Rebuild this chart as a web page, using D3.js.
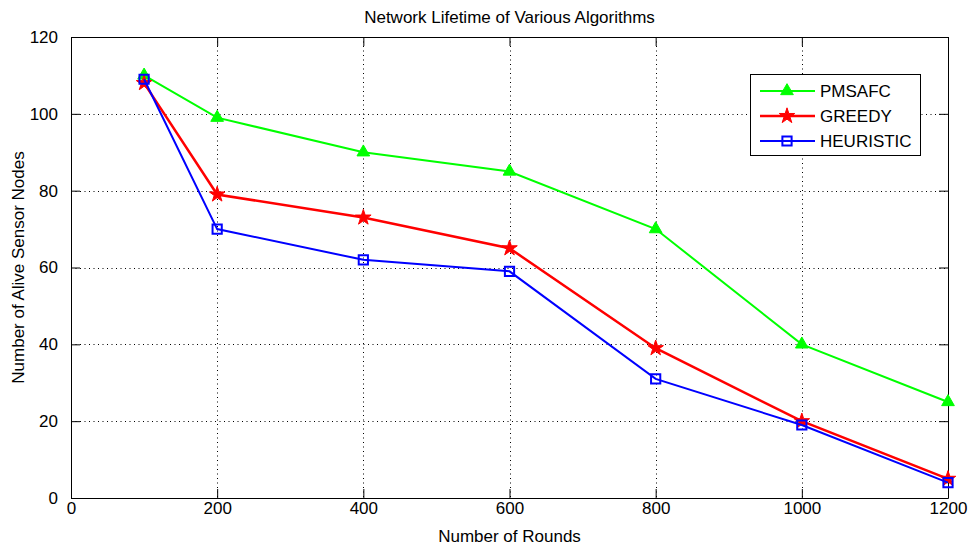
<!DOCTYPE html>
<html>
<head>
<meta charset="utf-8">
<script src="https://cdn.jsdelivr.net/npm/d3@7.9.0/dist/d3.min.js"></script>
<style>
  body { margin: 0; background: #fff; }
  svg { display: block; font-family: "Liberation Sans Narrow", "Arial Narrow", "Liberation Sans", sans-serif; }
</style>
</head>
<body>
<div id="chart"></div>
<script>
// data
const rounds = [100, 200, 400, 600, 800, 1000, 1200];
const pmsafc = [110, 99, 90, 85, 70, 40, 25];
const greedy = [108, 79, 73, 65, 39, 20, 5];
const heuristic = [109, 70, 62, 59, 31, 19, 4];
const xTicks = [0, 200, 400, 600, 800, 1000, 1200];
const yTicks = [0, 20, 40, 60, 80, 100, 120];

const series = [
    { name: "PMSAFC", values: pmsafc, color: "#00ff00", marker: "triangle", width: 2 },
    { name: "GREEDY", values: greedy, color: "#ff0000", marker: "star", width: 2.5 },
    { name: "HEURISTIC", values: heuristic, color: "#0000ff", marker: "square", width: 2 }
];

const width = 976;
const height = 545;
const margin = { top: 37, right: 28, bottom: 47, left: 71 };

const area = {
    top: margin.top,
    right: width - margin.right,
    bottom: height - margin.bottom,
    left: margin.left
};

const svg = d3.select("#chart")
    .append("svg")
    .attr("width", width)
    .attr("height", height);

// scales
const xScale = d3.scaleLinear().domain([0, 1200]).range([area.left, area.right]);
const yScale = d3.scaleLinear().domain([0, 120]).range([area.bottom, area.top]);

// dotted grid
const grid = svg.append("g").attr("stroke", "#000").attr("stroke-width", 1)
    .attr("stroke-dasharray", "1,3.5");
grid.selectAll(".gx")
    .data(xTicks.slice(1, -1))
    .join("line")
    .attr("x1", d => Math.round(xScale(d)) + 0.5)
    .attr("x2", d => Math.round(xScale(d)) + 0.5)
    .attr("y1", area.top)
    .attr("y2", area.bottom);
grid.selectAll(".gy")
    .data(yTicks.slice(1, -1))
    .join("line")
    .attr("x1", area.left)
    .attr("x2", area.right)
    .attr("y1", d => Math.round(yScale(d)) + 0.5)
    .attr("y2", d => Math.round(yScale(d)) + 0.5);

// axes with inward ticks on all four sides
const tickLen = 9;
const fmt = d3.format("d");
const axisFont = 17;

const xb = svg.append("g")
    .attr("transform", `translate(0,${area.bottom})`)
    .call(d3.axisBottom(xScale).tickValues(xTicks).tickFormat(fmt).tickSizeInner(-tickLen).tickSizeOuter(0).tickPadding(4));
const xt = svg.append("g")
    .attr("transform", `translate(0,${area.top})`)
    .call(d3.axisTop(xScale).tickValues(xTicks).tickFormat("").tickSizeInner(-tickLen).tickSizeOuter(0));
const yl = svg.append("g")
    .attr("transform", `translate(${area.left},0)`)
    .call(d3.axisLeft(yScale).tickValues(yTicks).tickFormat(fmt).tickSizeInner(-tickLen).tickSizeOuter(0).tickPadding(13));
const yr = svg.append("g")
    .attr("transform", `translate(${area.right},0)`)
    .call(d3.axisRight(yScale).tickValues(yTicks).tickFormat("").tickSizeInner(-tickLen).tickSizeOuter(0));

[xb, xt, yl, yr].forEach(g => {
    g.select(".domain").attr("stroke", "#000").attr("stroke-width", 1);
    g.selectAll(".tick line").attr("stroke", "#000");
    g.selectAll(".tick text").attr("fill", "#000").style("font-size", axisFont + "px").style("font-family", "inherit");
});

// line + marker drawing
const line = d3.line()
    .x((d, i) => xScale(rounds[i]))
    .y(d => yScale(d));

const symbolFor = {
    triangle: d3.symbol().type(d3.symbolTriangle).size(70),
    star: d3.symbol().type(d3.symbolStar).size(75),
    square: d3.symbol().type(d3.symbolSquare).size(85)
};

function drawMarker(g, s, x, y) {
    const p = g.append("path")
        .attr("d", symbolFor[s.marker]())
        .attr("transform", `translate(${x},${y})`);
    if (s.marker === "square") {
        p.attr("fill", "none").attr("stroke", s.color).attr("stroke-width", 2);
    } else {
        p.attr("fill", s.color).attr("stroke", s.color).attr("stroke-width", 1);
    }
}

series.forEach(s => {
    svg.append("path")
        .datum(s.values)
        .attr("fill", "none")
        .attr("stroke", s.color)
        .attr("stroke-width", s.width)
        .attr("d", line);
    const g = svg.append("g");
    s.values.forEach((v, i) => drawMarker(g, s, xScale(rounds[i]), yScale(v)));
});

// title and axis labels
svg.append("text")
    .attr("x", (area.left + area.right) / 2)
    .attr("y", 23)
    .attr("text-anchor", "middle")
    .style("font-size", "17px")
    .text("Network Lifetime of Various Algorithms");

svg.append("text")
    .attr("x", (area.left + area.right) / 2)
    .attr("y", 542)
    .attr("text-anchor", "middle")
    .style("font-size", "17px")
    .text("Number of Rounds");

svg.append("text")
    .attr("transform", `translate(24,${(area.top + area.bottom) / 2}) rotate(-90)`)
    .attr("text-anchor", "middle")
    .style("font-size", "17px")
    .text("Number of Alive Sensor Nodes");

// legend
const legend = { x: 750, y: 74, w: 170, h: 81 };
svg.append("rect")
    .attr("x", legend.x + 0.5)
    .attr("y", legend.y + 0.5)
    .attr("width", legend.w)
    .attr("height", legend.h)
    .attr("fill", "#fff")
    .attr("stroke", "#000");

series.forEach((s, i) => {
    const cy = legend.y + 17 + i * 25;
    svg.append("line")
        .attr("x1", legend.x + 10)
        .attr("x2", legend.x + 65)
        .attr("y1", cy)
        .attr("y2", cy)
        .attr("stroke", s.color)
        .attr("stroke-width", s.width);
    drawMarker(svg, s, legend.x + 37, cy);
    svg.append("text")
        .attr("x", legend.x + 70)
        .attr("y", cy + 6)
        .style("font-size", "17px")
        .text(s.name);
});
</script>
</body>
</html>
